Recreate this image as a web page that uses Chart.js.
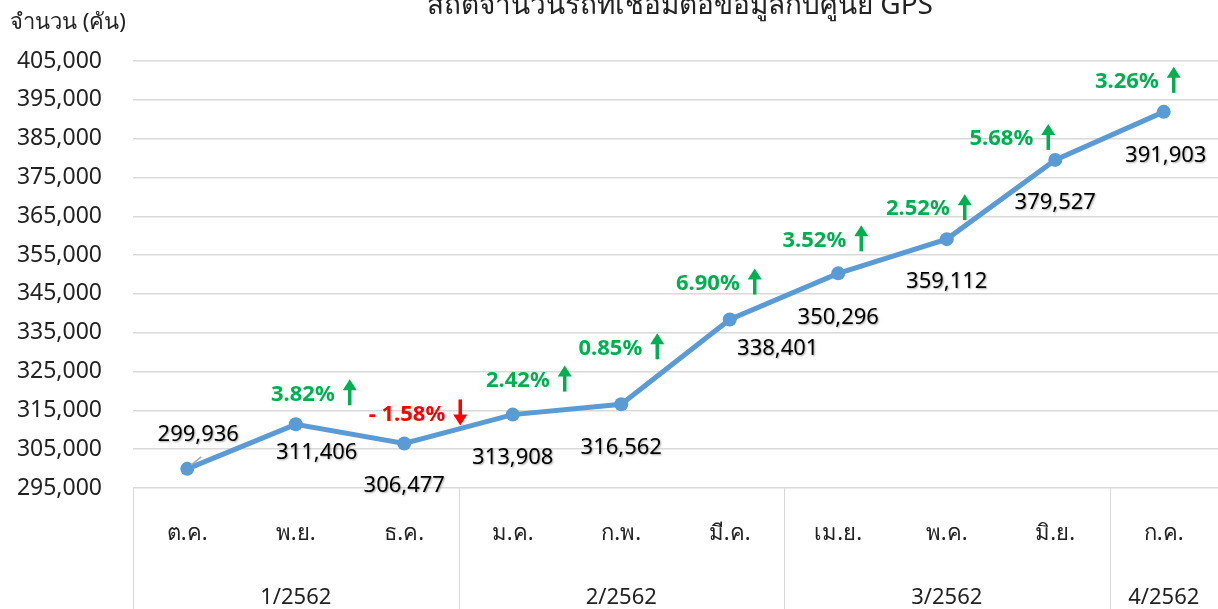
<!DOCTYPE html>
<html>
<head>
<meta charset="utf-8">
<script src="https://cdn.jsdelivr.net/npm/chart.js@4/dist/chart.umd.min.js"></script>
<style>
  body { margin: 0; background: #fff; }
  canvas { display: block; }
</style>
</head>
<body>
<canvas id="chart" width="1218" height="609"></canvas>
<script>
const months = ['ต.ค.', 'พ.ย.', 'ธ.ค.', 'ม.ค.', 'ก.พ.', 'มี.ค.', 'เม.ย.', 'พ.ค.', 'มิ.ย.', 'ก.ค.'];
const quarters = ['1/2562', '2/2562', '3/2562', '4/2562'];
const quarterSpans = [3, 3, 3, 1];
const cars = [299936, 311406, 306477, 313908, 316562, 338401, 350296, 359112, 379527, 391903];
const changes = [null, 3.82, -1.58, 2.42, 0.85, 6.90, 3.52, 2.52, 5.68, 3.26];
const yTicks = [295000, 305000, 315000, 325000, 335000, 345000, 355000, 365000, 375000, 385000, 395000, 405000];

const FONT = 'Tahoma, "Noto Sans", "DejaVu Sans", sans-serif';
const title = 'สถิติจำนวนรถที่เชื่อมต่อข้อมูลกับศูนย์ GPS';
const yTitle = 'จำนวน (คัน)';

// label offsets from each point (value label centre)
const valueOffsets = [[11, -34], [21, 28], [0, 42], [0, 43], [0, 43], [48, 29], [0, 44], [0, 43], [0, 43], [2, 44]];
// percent label: right edge of text, vertical centre
const pctOffsets = [null, [39, -30], [41, -29], [37, -34], [21, -56], [10, -36], [8, -33], [3, -30], [-22, -21], [-5, -30]];

const fmt = v => v.toLocaleString('en-US');

const extras = {
  id: 'extras',
  afterDraw(chart) {
    const ctx = chart.ctx;
    const x = chart.scales.x, y = chart.scales.y;
    const area = chart.chartArea;
    ctx.save();

    // title and axis title
    ctx.fillStyle = '#222';
    ctx.font = '28px ' + FONT;
    ctx.textAlign = 'center';
    ctx.textBaseline = 'alphabetic';
    ctx.fillText(title, 680, 14);
    ctx.font = '22px ' + FONT;
    ctx.textAlign = 'left';
    ctx.fillText(yTitle, 10, 29);

    // quarter separators and labels
    const half = (x.getPixelForValue(1) - x.getPixelForValue(0)) / 2;
    ctx.strokeStyle = '#d9d9d9';
    ctx.lineWidth = 1;
    let start = 0;
    quarters.forEach((q, i) => {
      const left = x.getPixelForValue(start) - half;
      const right = x.getPixelForValue(start + quarterSpans[i] - 1) + half;
      ctx.beginPath();
      ctx.moveTo(Math.round(left) + 0.5, area.bottom);
      ctx.lineTo(Math.round(left) + 0.5, chart.height);
      ctx.stroke();
      ctx.fillStyle = '#222';
      ctx.font = '22px ' + FONT;
      ctx.textAlign = 'center';
      ctx.textBaseline = 'middle';
      ctx.fillText(q, (left + right) / 2, 598);
      start += quarterSpans[i];
    });

    // leader line for first label
    const p0x = x.getPixelForValue(0), p0y = y.getPixelForValue(cars[0]);
    ctx.strokeStyle = '#a6a6a6';
    ctx.lineWidth = 1.5;
    ctx.beginPath();
    ctx.moveTo(p0x + 4, p0y - 4);
    ctx.lineTo(p0x + 14, p0y - 12);
    ctx.stroke();

    // value labels
    ctx.font = '22px ' + FONT;
    ctx.textAlign = 'center';
    ctx.textBaseline = 'middle';
    cars.forEach((v, i) => {
      const px = x.getPixelForValue(i), py = y.getPixelForValue(v);
      ctx.save();
      ctx.shadowColor = 'rgba(0,0,0,0.35)';
      ctx.shadowOffsetX = 1;
      ctx.shadowOffsetY = 1;
      ctx.shadowBlur = 2;
      ctx.fillStyle = '#000';
      ctx.fillText(fmt(v), px + valueOffsets[i][0], py + valueOffsets[i][1]);
      ctx.restore();
    });

    // percent labels with arrows
    changes.forEach((c, i) => {
      if (c === null) return;
      const px = x.getPixelForValue(i), py = y.getPixelForValue(cars[i]);
      const tx = px + pctOffsets[i][0], ty = py + pctOffsets[i][1];
      const color = c < 0 ? '#ff0000' : '#00b050';
      const txt = c < 0 ? '- ' + Math.abs(c).toFixed(2) + '%' : c.toFixed(2) + '%';
      ctx.fillStyle = color;
      ctx.font = 'bold 22px ' + FONT;
      ctx.textAlign = 'right';
      ctx.textBaseline = 'middle';
      ctx.fillText(txt, tx, ty);
      // arrow
      const ax = tx + 15;
      const top = ty - 15, bot = ty + 11;
      ctx.strokeStyle = color;
      ctx.lineWidth = 3.5;
      ctx.beginPath();
      if (c >= 0) {
        ctx.moveTo(ax, bot); ctx.lineTo(ax, top + 8);
        ctx.stroke();
        ctx.beginPath();
        ctx.moveTo(ax - 7, top + 11); ctx.lineTo(ax, top); ctx.lineTo(ax + 7, top + 11);
      } else {
        ctx.moveTo(ax, top); ctx.lineTo(ax, bot - 8);
        ctx.stroke();
        ctx.beginPath();
        ctx.moveTo(ax - 7, bot - 11); ctx.lineTo(ax, bot); ctx.lineTo(ax + 7, bot - 11);
      }
      ctx.closePath();
      ctx.fill();
    });

    ctx.restore();
  }
};

new Chart(document.getElementById('chart'), {
  type: 'line',
  data: {
    labels: months,
    datasets: [{
      data: cars,
      borderColor: '#5b9bd5',
      backgroundColor: '#5b9bd5',
      borderWidth: 5,
      pointRadius: 7,
      pointBorderWidth: 0,
      tension: 0
    }]
  },
  options: {
    responsive: false,
    animation: false,
    layout: { autoPadding: false, padding: { top: 61, right: 0, left: 0, bottom: 0 } },
    plugins: { legend: { display: false }, tooltip: { enabled: false } },
    scales: {
      x: {
        offset: true,
        grid: { display: false },
        border: { display: false },
        ticks: { color: '#222', font: { size: 22, family: FONT }, padding: 25, maxRotation: 0 },
        afterFit(s) { s.height = 121; }
      },
      y: {
        min: 295000,
        max: 405000,
        afterBuildTicks(s) { s.ticks = yTicks.map(v => ({ value: v })); },
        grid: { color: '#d9d9d9', lineWidth: 1.5, drawTicks: false },
        border: { display: false },
        ticks: { color: '#222', font: { size: 23, family: FONT }, padding: 31, callback: v => fmt(v) },
        afterFit(s) { s.width = 133; }
      }
    }
  },
  plugins: [extras]
});
</script>
</body>
</html>
